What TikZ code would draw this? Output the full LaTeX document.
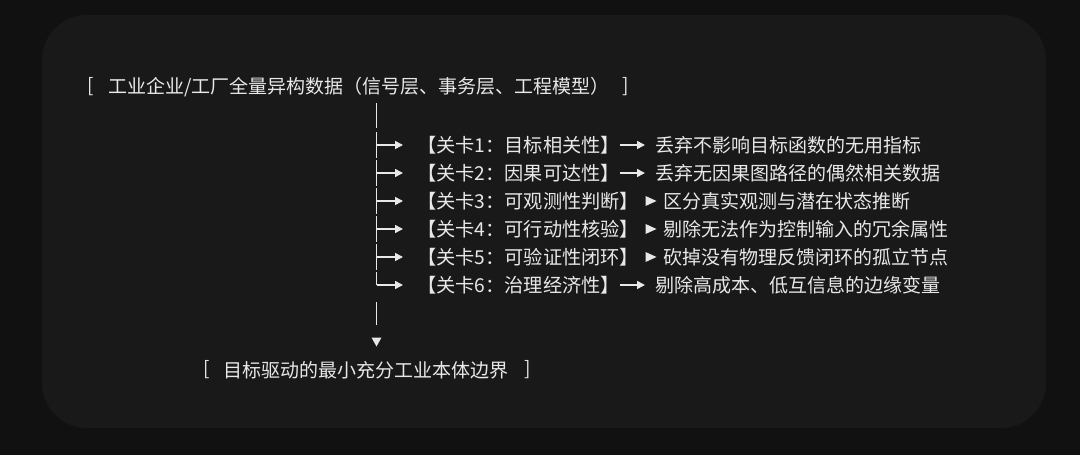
\documentclass[tikz,border=0pt]{standalone}
\usepackage{fontspec}
\setmainfont{Noto Sans CJK SC}
\usetikzlibrary{arrows.meta}
\definecolor{bgout}{HTML}{111111}
\definecolor{bgin}{HTML}{191919}
\definecolor{fg}{HTML}{E8E8E8}
\begin{document}
\begin{tikzpicture}[x=1pt,y=-1pt,
  txt/.style={text=fg,font=\fontsize{19}{19}\selectfont,inner sep=0pt,anchor=west},
  labtxt/.style={txt,font=\fontsize{19.2}{19.2}\selectfont},
  tree/.style={draw=fg,line width=1.6pt},
  tip/.style={tree,-{Triangle[length=8pt,width=8pt]}}]
\fill[bgout] (0,0) rectangle (1080,455);
\fill[bgin,rounded corners=45pt] (42,15) rectangle (1046,428);
\useasboundingbox (0,0) rectangle (1080,455);

% heading
\node[txt] (hl) at (87,87) {[};
\node[txt] (head) at (108,87) {工业企业/工厂全量异构数据（信号层、事务层、工程模型）};
\node[txt] (hr) at (622,87) {]};

% trunk
\coordinate (t0a) at (376.5,103);
\coordinate (t0b) at (376.5,128);
\draw[tree] (t0a) -- (t0b);

\foreach \i/\lab/\desc/\kind in {
 1/{【关卡1：目标相关性】}/{丢弃不影响目标函数的无用指标}/a,
 2/{【关卡2：因果可达性】}/{丢弃无因果图路径的偶然相关数据}/a,
 3/{【关卡3：可观测性判断】}/{区分真实观测与潜在状态推断}/b,
 4/{【关卡4：可行动性核验】}/{剔除无法作为控制输入的冗余属性}/b,
 5/{【关卡5：可验证性闭环】}/{砍掉没有物理反馈闭环的孤立节点}/b,
 6/{【关卡6：治理经济性】}/{剔除高成本、低互信息的边缘变量}/a}{
  \pgfmathsetmacro{\yc}{145+28*(\i-1)}
  \coordinate (v\i a) at (376.5,\yc-13);
  \coordinate (v\i c) at (376.5,\yc);
  \coordinate (v\i b) at (376.5,\yc+13);
  \node[labtxt] (l\i) at (417,\yc) {\lab};
  \if a\kind
    \node[txt] (d\i) at (655,\yc) {\desc};
    \draw[tip] ([xshift=-35pt]d\i.west|-v\i c) -- ([xshift=-10pt]d\i.west|-v\i c);
  \else
    \node[txt] (d\i) at (663,\yc) {\desc};
    \fill[fg] (645.5,\yc-5) -- (656.5,\yc) -- (645.5,\yc+5) -- cycle;
  \fi
  \ifnum\i<6
    \draw[tree] (v\i a) -- (v\i b);
  \else
    \draw[tree] (v\i a) -- (v\i c);
  \fi
  \draw[tip] (v\i c) -- (403,\yc);
}

% tail
\coordinate (t7a) at (376.5,302);
\coordinate (t7b) at (376.5,325);
\draw[tree] (t7a) -- (t7b);
\fill[fg] (371.5,337.5) -- (381.5,337.5) -- (376.5,346.5) -- cycle;

% final
\node[txt] (fl) at (203,370) {[};
\node[txt] (final) at (223,370) {目标驱动的最小充分工业本体边界};
\node[txt] (fr) at (524,370) {]};
\end{tikzpicture}
\end{document}
